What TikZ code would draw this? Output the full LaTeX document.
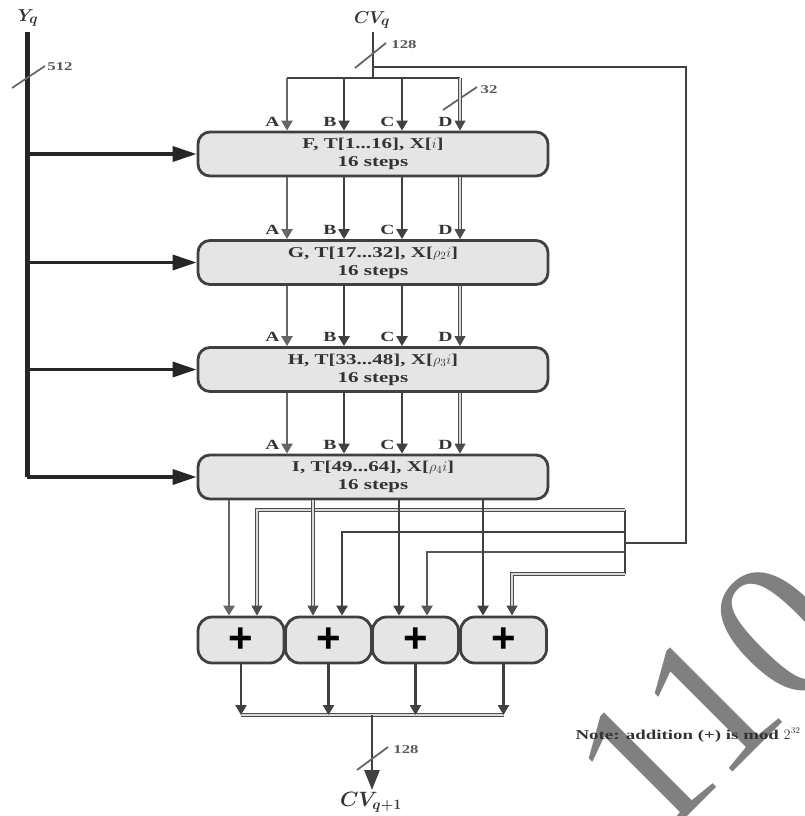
\documentclass[tikz,border=0pt]{standalone}
\usepackage{amsmath}
\usepackage{fontspec}
\setmainfont{Liberation Serif}
\newfontfamily\plusfont{Liberation Sans}
\newfontfamily\boxfont[FakeStretch=1.4]{Liberation Serif}
\usetikzlibrary{arrows.meta,calc}
\begin{document}
\begin{tikzpicture}[x=1pt,y=-1pt,
  wire/.style={draw=black!75, line width=2.8pt},
  wired/.style={draw=black!70, line width=0.9pt, double=black!15, double distance=1.5pt},
  tip/.style={-{Triangle[length=10pt,width=11pt]}},
  bigtip/.style={-{Triangle[length=20pt,width=15pt]}},
  rbox/.style={draw=black!75, line width=2.8pt, fill=black!10, rounded corners=12pt, minimum width=350pt, minimum height=44pt, inner sep=0pt, align=center, font=\boxfont\bfseries\fontsize{15}{18}\selectfont, text=black!80},
  pbox/.style={draw=black!75, line width=2.8pt, fill=black!10, rounded corners=14pt, minimum width=86pt, minimum height=46pt, inner sep=0pt, font=\plusfont\bfseries\fontsize{42}{42}\selectfont},
  lab/.style={font=\boxfont\bfseries\fontsize{14}{14}\selectfont, text=black!80},
  small/.style={font=\boxfont\bfseries\fontsize{12}{12}\selectfont, text=black!65},
  slash/.style={draw=black!60, line width=1.8pt},
  ttl/.style={font=\bfseries\fontsize{19}{19}\selectfont, text=black!80},
]
\useasboundingbox (0,0) rectangle (805,816);

% watermark
\node[text=black!50, rotate=45, font=\fontsize{200}{200}\selectfont] (wm) at (712,700) {110};

% boxes
\node[rbox] (b1) at (373,154) {F, T[1...16], X[$i$]\\16 steps};
\node[rbox] (b2) at (373,262.5) {G, T[17...32], X[$\rho_2 i$]\\16 steps};
\node[rbox] (b3) at (373,369.5) {H, T[33...48], X[$\rho_3 i$]\\16 steps};
\node[rbox] (b4) at (373,477) {I, T[49...64], X[$\rho_4 i$]\\16 steps};

\node[pbox] (p1) at (241,640) {+};
\node[pbox] (p2) at (328.5,640) {+};
\node[pbox] (p3) at (415.5,640) {+};
\node[pbox] (p4) at (503.5,640) {+};

% Y_q input
\node[ttl] (yq) at (28,18) {$\boldsymbol{Y_q}$};
\coordinate (ytop) at (27,32);
\coordinate (ybot) at (27,477);
\draw[line width=5pt, black!85] (ytop) -- (ybot);
\foreach \b in {b1,b2,b3,b4}
  \draw[line width=3.5pt, black!85, -{Triangle[length=24pt,width=15pt]}] (ytop |- \b.west) -- (\b.west);
\draw[slash] (12,88) -- (45,66);
\node[small] (l512) at (60,67) {512};

% CV_q input
\node[ttl] (cvq) at (372,20) {$\boldsymbol{CV_q}$};
\coordinate (cvtop) at (373,32);
\coordinate (bus) at (373,78);
\coordinate (cA) at (287,78);
\coordinate (cB) at (344,78);
\coordinate (cC) at (402,78);
\coordinate (cD) at (460,78);
\draw[wire] (cvtop) -- (bus);
\draw[wire] (cA) -- (cD);
\draw[slash] (355,68) -- (386,43);
\node[small] (l128a) at (404,45) {128};
\draw[slash] (443,110) -- (477,87);
\node[small] (l32) at (489,90) {32};

% column arrows
\draw[wire,tip,draw=black!60] (cA) -- (cA |- b1.north);
\draw[wire,tip] (cB) -- (cB |- b1.north);
\draw[wire,tip] (cC) -- (cC |- b1.north);
\draw[wired,tip] (cD) -- (cD |- b1.north);
\foreach \u/\v in {b1/b2,b2/b3,b3/b4}{
  \draw[wire,tip,draw=black!60] (cA |- \u.south) -- (cA |- \v.north);
  \draw[wire,tip] (cB |- \u.south) -- (cB |- \v.north);
  \draw[wire,tip] (cC |- \u.south) -- (cC |- \v.north);
  \draw[wired,tip] (cD |- \u.south) -- (cD |- \v.north);
}
\foreach \b in {b1,b2,b3,b4}{
  \node[lab,anchor=east] at ([xshift=-4pt,yshift=9pt]\b.north -| cA) {A};
  \node[lab,anchor=east] at ([xshift=-4pt,yshift=9pt]\b.north -| cB) {B};
  \node[lab,anchor=east] at ([xshift=-4pt,yshift=9pt]\b.north -| cC) {C};
  \node[lab,anchor=east] at ([xshift=-4pt,yshift=9pt]\b.north -| cD) {D};
}

% feedback loop
\coordinate (fb0) at (373,67);
\coordinate (fb1) at (686,67);
\coordinate (fb2) at (686,543);
\coordinate (fb3) at (625,543);
\draw[wire] (fb0) -- (fb1) -- (fb2) -- (fb3);
\coordinate (k1) at (625,510);
\coordinate (k2) at (625,532);
\coordinate (k3) at (625,552);
\coordinate (k4) at (625,574);
\draw[wire] (k1) -- (k4);
\coordinate (fA) at (257,510);
\coordinate (fB) at (342,532);
\coordinate (fC) at (427,552);
\coordinate (fD) at (512,574);
\draw[wired,tip] (k1) -- (fA) -- (fA |- p1.north);
\draw[wire,tip] (k2) -- (fB) -- (fB |- p2.north);
\draw[wire,tip,draw=black!65] (k3) -- (fC) -- (fC |- p3.north);
\draw[wired,tip] (k4) -- (fD) -- (fD |- p4.north);

% round outputs to adders
\coordinate (oA) at (229,560);
\coordinate (oB) at (313,560);
\coordinate (oC) at (399,560);
\coordinate (oD) at (483,560);
\draw[wire,tip,draw=black!60] (oA |- b4.south) -- (oA |- p1.north);
\draw[wired,tip] (oB |- b4.south) -- (oB |- p2.north);
\draw[wire,tip] (oC |- b4.south) -- (oC |- p3.north);
\draw[wire,tip] (oD |- b4.south) -- (oD |- p4.north);

% adder outputs
\coordinate (busL) at (241,715);
\coordinate (busR) at (503.5,715);
\coordinate (outTop) at (372,715);
\draw[wired] (busL) -- (busR);
\foreach \p in {p1,p2,p3,p4}
  \draw[wire,tip] (\p.south) -- (\p.south |- busL);
\node[ttl,font=\bfseries\fontsize{22}{22}\selectfont] (cvq1) at (371,802) {$\boldsymbol{CV_{q+1}}$};
\draw[wire,bigtip] (outTop) -- (372,790);
\draw[slash] (357,770) -- (388,747);
\node[small] (l128b) at (406,750) {128};

% note
\node[anchor=west,text=black!80,font=\boxfont\bfseries\fontsize{13.5}{14}\selectfont] (note) at (572,735) {Note: addition (+) is mod $2^{32}$};
\end{tikzpicture}
\end{document}
